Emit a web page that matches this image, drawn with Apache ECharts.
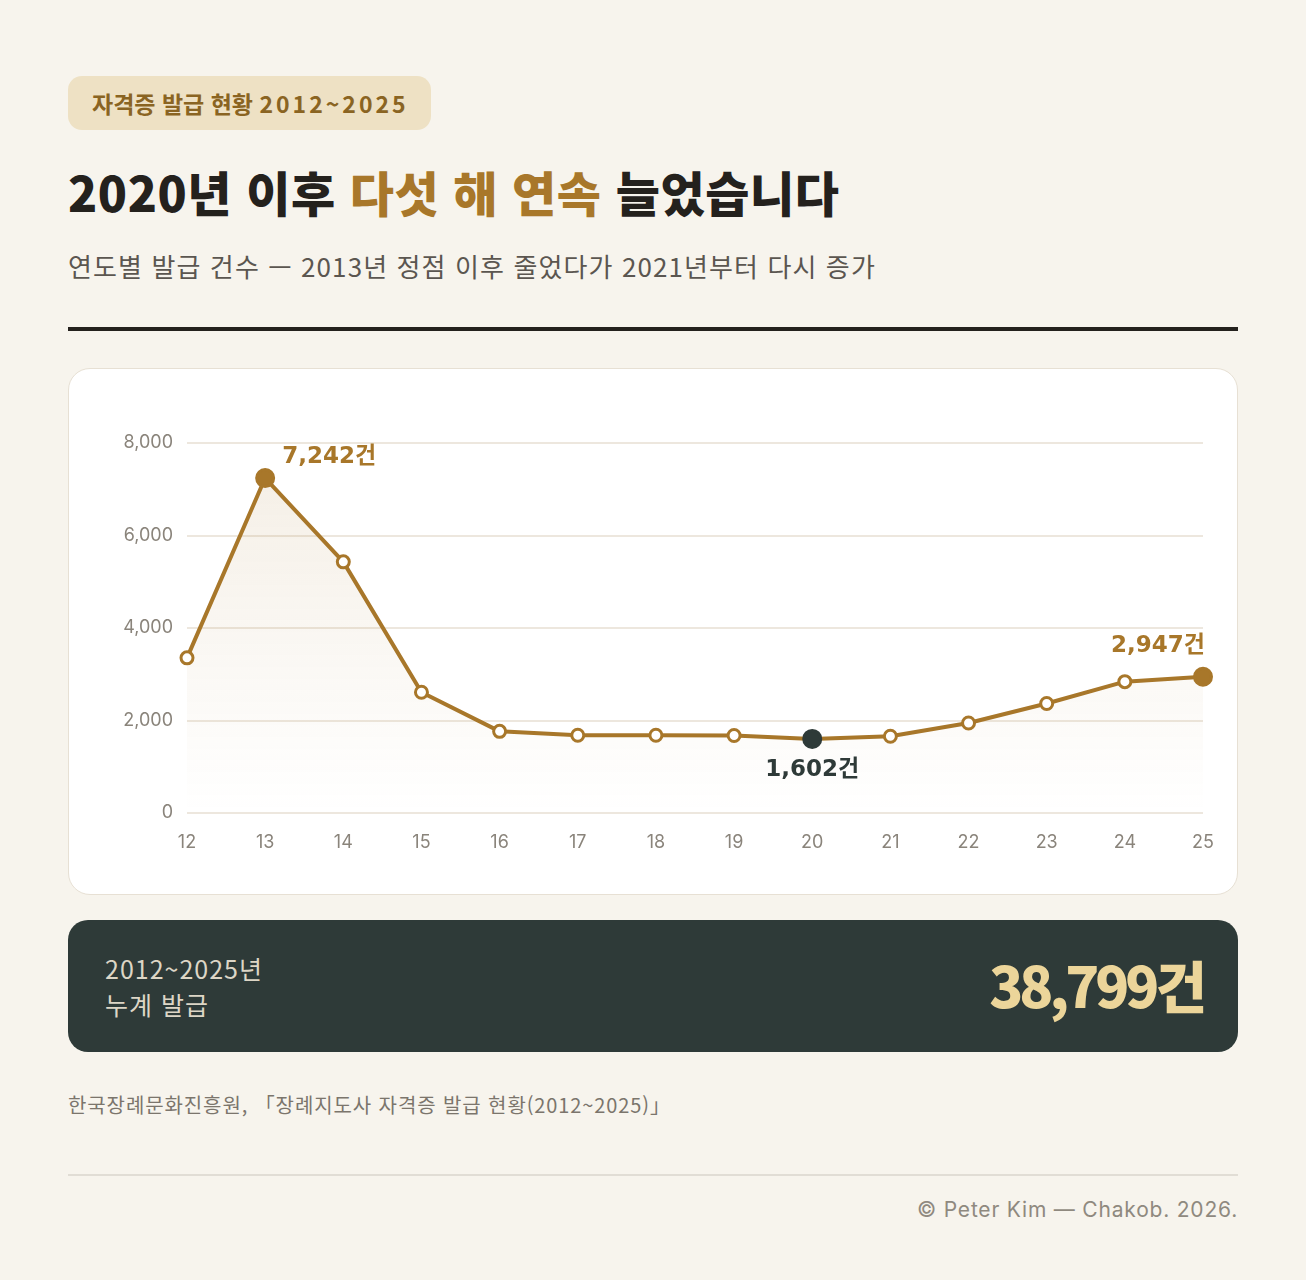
<!DOCTYPE html>
<html lang="ko">
<head>
<meta charset="utf-8">
<script src="https://cdn.jsdelivr.net/npm/echarts@6/dist/echarts.min.js"></script>
<style>
  body { margin: 0; background: #f7f4ed; font-family: "Noto Sans CJK KR", "Inter", sans-serif; }
  .page { position: relative; width: 1306px; height: 1280px; }
  .tag { position: absolute; left: 68px; top: 76px; height: 54px; padding: 0 22px 0 24px; border-radius: 14px;
         background: #eee1c4; color: #8a6422; font-size: 23px; font-weight: 700; line-height: 54px; }
  .tag span { letter-spacing: 3px; }
  .title { position: absolute; left: 68px; top: 156px; font-size: 48px; font-weight: 900; color: #24211d;
           letter-spacing: 0.6px; margin: 0; line-height: 70px; }
  .title em { font-style: normal; color: #a8772a; }
  .sub { position: absolute; left: 68px; top: 246px; font-size: 26px; color: #5b5650; line-height: 40px; letter-spacing: 1.1px; }
  .rule { position: absolute; left: 68px; top: 327px; width: 1170px; height: 4px; background: #24211d; }
  .card { position: absolute; left: 68px; top: 368px; width: 1168px; height: 525px; background: #fff;
          border: 1.5px solid #e7e0d4; border-radius: 22px; }
  #chart { position: absolute; left: 0; top: 0; width: 1168px; height: 525px; }
  .sum { position: absolute; left: 68px; top: 920px; width: 1170px; height: 132px; background: #2e3a38; border-radius: 20px; }
  .sum .l { position: absolute; left: 37px; top: 30px; color: #ddd6c6; font-size: 25px; line-height: 36px; letter-spacing: 1px; }
  .sum .r { position: absolute; right: 35px; top: 26px; color: #ecd59a; font-size: 56px; font-weight: 800;
            letter-spacing: -4px; line-height: 76px; }
  .src { position: absolute; left: 68px; top: 1090px; font-size: 20px; color: #7b756c; line-height: 30px; letter-spacing: 0.9px; }
  .rule2 { position: absolute; left: 68px; top: 1174px; width: 1170px; height: 2px; background: #e1ddd5; }
  .copy { position: absolute; right: 68px; top: 1194px; font-size: 21px; color: #8f897f; line-height: 32px;
          letter-spacing: 0.8px; font-family: "Inter", "Noto Sans CJK KR", sans-serif; }
</style>
</head>
<body>
<div class="page">
  <div class="tag">자격증 발급 현황 <span>2012~2025</span></div>
  <h1 class="title">2020년 이후 <em>다섯 해 연속</em> 늘었습니다</h1>
  <div class="sub">연도별 발급 건수 — 2013년 정점 이후 줄었다가 2021년부터 다시 증가</div>
  <div class="rule"></div>
  <div class="card"><div id="chart"></div></div>
  <div class="sum">
    <div class="l">2012~2025년<br>누계 발급</div>
    <div class="r" id="total"></div>
  </div>
  <div class="src">한국장례문화진흥원, 「장례지도사 자격증 발급 현황(2012~2025)」</div>
  <div class="rule2"></div>
  <div class="copy">© Peter Kim — Chakob. 2026.</div>
</div>
<script>
// 연도 (두 자리) 와 연도별 발급 건수
const years = ["12", "13", "14", "15", "16", "17", "18", "19", "20", "21", "22", "23", "24", "25"];
const issued = [3355, 7242, 5430, 2610, 1765, 1680, 1680, 1675, 1602, 1660, 1945, 2368, 2840, 2947];
const yTicks = [0, 2000, 4000, 6000, 8000];

const gold = "#a8772a";
const dark = "#2e3a38";
const labelFont = "'DejaVu Sans', 'Noto Sans CJK KR', sans-serif";
const fmt = (v) => v.toLocaleString("en-US");

const total = issued.reduce((a, b) => a + b, 0);
document.getElementById("total").textContent = fmt(total) + "건";

const peakIdx = issued.indexOf(Math.max(...issued));
const lowIdx = issued.indexOf(Math.min(...issued));
const lastIdx = issued.length - 1;

const callout = (color, extra) => Object.assign({
  show: true, color: color, fontSize: 23, fontWeight: "bold", fontFamily: labelFont,
  formatter: (p) => fmt(p.value) + "건"
}, extra);

const seriesData = issued.map((v, i) => {
  if (i === peakIdx) {
    return {
      value: v, symbol: "circle", symbolSize: 17,
      itemStyle: { color: gold, borderColor: gold },
      label: callout(gold, { position: "right", offset: [2, -21] })
    };
  }
  if (i === lastIdx) {
    return {
      value: v, symbol: "circle", symbolSize: 17,
      itemStyle: { color: gold, borderColor: gold },
      label: callout(gold, { position: "top", align: "right", offset: [2, 3], distance: 12 })
    };
  }
  if (i === lowIdx) {
    return {
      value: v, symbol: "circle", symbolSize: 17,
      itemStyle: { color: dark, borderColor: dark },
      label: callout(dark, { position: "bottom", distance: 10 })
    };
  }
  return v;
});

const chart = echarts.init(document.getElementById("chart"));
chart.setOption({
  animation: false,
  grid: { left: 118, right: 34, top: 74, bottom: 81 },
  xAxis: {
    type: "category",
    data: years,
    boundaryGap: false,
    axisLine: { show: false },
    axisTick: { show: false },
    axisLabel: { color: "#8a847b", fontSize: 18, margin: 21, fontFamily: "Inter" }
  },
  yAxis: {
    type: "value",
    min: yTicks[0],
    max: yTicks[yTicks.length - 1],
    interval: 2000,
    axisLabel: { color: "#8a847b", fontSize: 18, margin: 14, fontFamily: "Inter", formatter: (v) => fmt(v) },
    splitLine: { lineStyle: { color: "#e7dfd3", width: 1.5 } }
  },
  series: [{
    type: "line",
    data: seriesData,
    symbol: "circle",
    symbolSize: 12,
    showAllSymbol: true,
    lineStyle: { color: gold, width: 4 },
    itemStyle: { color: "#fff", borderColor: gold, borderWidth: 3 },
    areaStyle: {
      color: new echarts.graphic.LinearGradient(0, 0, 0, 1, [
        { offset: 0, color: "rgba(168,119,42,0.16)" },
        { offset: 1, color: "rgba(168,119,42,0)" }
      ])
    },
    z: 3
  }]
});
</script>
</body>
</html>
